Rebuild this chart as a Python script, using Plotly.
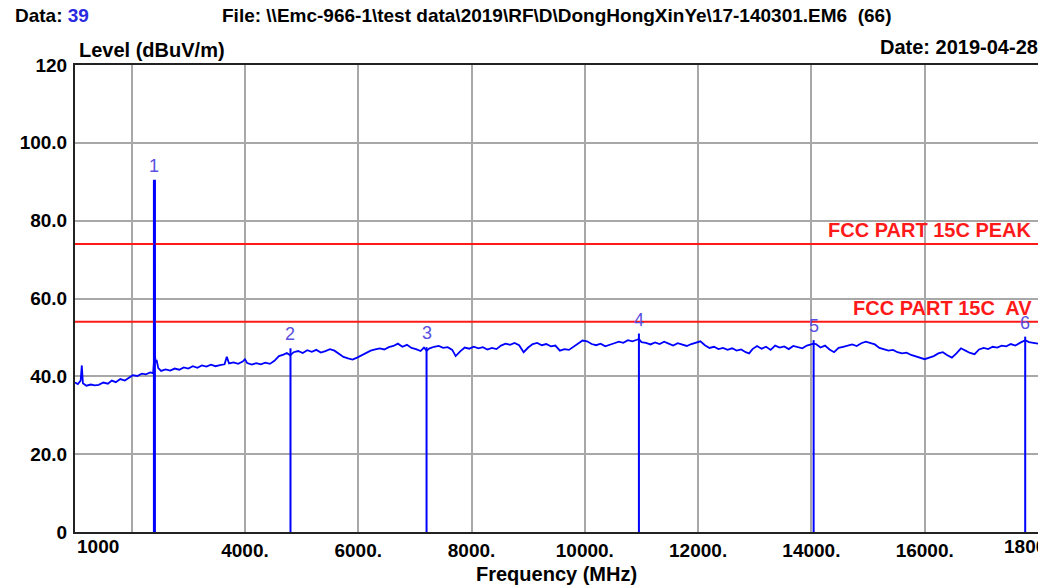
import plotly.graph_objects as go

# Sweep trace (MHz, dBuV/m)
freq_mhz = [
    1000, 1050, 1100, 1120, 1140, 1200, 1280, 1350, 1420, 1500, 1580, 1650, 1720, 1800,
    1880, 1950, 2020, 2100, 2180, 2250, 2330, 2380, 2395, 2402, 2410, 2425, 2440, 2470,
    2520, 2600, 2680, 2760, 2840, 2920, 3000, 3080, 3160, 3240, 3320, 3400, 3480, 3560,
    3640, 3680, 3720, 3800, 3880, 3960, 4000, 4040, 4120, 4200, 4280, 4360, 4440, 4520,
    4600, 4680, 4740, 4800, 4860, 4940, 5020, 5100, 5180, 5260, 5340, 5420, 5500, 5580,
    5660, 5740, 5820, 5900, 5980, 6060, 6140, 6220, 6300, 6380, 6460, 6540, 6620, 6700,
    6780, 6860, 6940, 7020, 7100, 7160, 7206, 7260, 7340, 7420, 7500, 7580, 7660, 7720,
    7800, 7880, 7960, 8040, 8120, 8200, 8280, 8360, 8440, 8520, 8600, 8680, 8760, 8840,
    8920, 9000, 9080, 9160, 9240, 9320, 9400, 9480, 9560, 9640, 9720, 9800, 9880, 9960,
    10040, 10120, 10200, 10280, 10360, 10440, 10520, 10600, 10680, 10760, 10840, 10920,
    10955, 11000, 11080, 11160, 11240, 11320, 11400, 11480, 11560, 11640, 11720, 11800,
    11880, 11960, 12040, 12120, 12200, 12280, 12360, 12440, 12520, 12600, 12680, 12760,
    12840, 12900, 12960, 13040, 13120, 13200, 13280, 13360, 13440, 13520, 13600, 13680,
    13760, 13840, 13920, 14000, 14039, 14080, 14160, 14240, 14320, 14400, 14480, 14560,
    14640, 14720, 14800, 14880, 14960, 15040, 15120, 15200, 15280, 15360, 15440, 15520,
    15600, 15680, 15760, 15840, 15920, 16000, 16080, 16160, 16240, 16320, 16400, 16480,
    16560, 16640, 16720, 16800, 16880, 16960, 17040, 17120, 17200, 17280, 17360, 17440,
    17520, 17600, 17680, 17774, 17840, 17920, 18000,
]
level_dbuv = [
    38.4, 38.0, 38.9, 42.8, 38.2, 37.6, 37.9, 37.7, 37.8, 38.4, 38.1, 38.9, 38.5, 39.3,
    38.9, 39.6, 40.3, 40.1, 40.7, 40.5, 41.0, 40.8, 44.0, 90.3, 45.5, 43.6, 44.2, 42.1,
    41.4, 41.8, 41.5, 42.0, 41.7, 42.3, 42.0, 42.6, 42.2, 42.8, 42.5, 43.0, 42.6, 42.9,
    43.1, 45.0, 43.3, 43.6, 43.2, 43.8, 44.4, 43.4, 43.0, 43.4, 43.1, 43.5, 43.2, 44.0,
    45.2, 45.6, 46.0, 45.4, 46.2, 46.5, 46.0, 46.7, 46.3, 46.8, 46.1, 46.5, 47.0, 46.6,
    45.8, 45.0, 44.6, 44.3, 44.8, 45.4, 45.9, 46.6, 46.9, 47.2, 46.9, 47.5, 47.8, 48.4,
    47.6, 48.1, 47.3, 47.0, 46.5, 47.4, 46.6, 47.2, 47.6, 47.8, 47.3, 47.5, 46.8, 45.2,
    46.4, 47.4, 47.1, 47.6, 47.2, 47.5, 46.9, 47.3, 47.0, 47.9, 48.4, 48.1, 48.6, 48.0,
    46.2, 47.4, 48.3, 48.6, 48.0, 48.3, 47.7, 47.9, 46.6, 47.0, 46.8, 47.6, 48.6, 49.2,
    49.0, 48.3, 48.0, 48.4, 47.7, 48.2, 48.5, 48.9, 48.6, 49.3, 49.0, 49.4,
    49.6, 48.8, 48.6, 48.2, 48.7, 48.3, 48.9, 48.4, 47.9, 48.5, 48.2, 47.8,
    48.3, 48.6, 49.0, 48.0, 47.3, 47.6, 47.0, 47.3, 46.8, 47.2, 46.6, 46.9,
    46.2, 45.9, 47.0, 47.8, 47.1, 47.6, 46.8, 47.9, 47.4, 47.7, 47.0, 47.8,
    47.5, 47.2, 47.9, 48.2, 48.4, 48.3, 47.4, 47.9, 46.9, 46.2, 47.3, 47.6,
    47.9, 48.2, 47.8, 48.5, 48.9, 48.6, 48.2, 47.3, 47.0, 46.6, 46.8, 46.2,
    45.9, 46.1, 45.5, 45.1, 44.7, 44.4, 44.8, 45.2, 45.9, 46.2, 45.4, 44.8,
    45.9, 47.2, 46.6, 46.0, 45.7, 46.9, 47.3, 47.0, 47.6, 47.4, 47.9, 47.7,
    48.3, 47.9, 48.6, 49.3, 48.8, 48.6, 48.4,
]

# Marked peaks
marker_no = ['1', '2', '3', '4', '5', '6']
marker_freq = [2402, 4804, 7206, 10955, 14039, 17774]
marker_level = [90.5, 47.2, 47.5, 51.0, 49.3, 50.2]

# Limit lines
limit_names = ['FCC PART 15C PEAK', 'FCC PART 15C  AV']
limit_levels = [74, 54]

x_tick_vals = [2000, 4000, 6000, 8000, 10000, 12000, 14000, 16000, 18000]
x_tick_text = ['', '4000.', '6000.', '8000.', '10000.', '12000.', '14000.', '16000.', '']
y_tick_vals = [0, 20, 40, 60, 80, 100, 120]
y_tick_text = ['0', '20.0', '40.0', '60.0', '80.0', '100.0', '120']

BLUE = '#0000ff'
LABEL_BLUE = '#5a4fe0'
FONT = 'Liberation Sans, Arial'

fig = go.Figure()

# marker lines (from 0 up to the peak level)
for i, (f, v) in enumerate(zip(marker_freq, marker_level)):
    fig.add_trace(go.Scatter(
        x=[f, f], y=[0, v], mode='lines',
        line=dict(color=BLUE, width=3 if i == 0 else 2),
        showlegend=False, hoverinfo='skip'
    ))

# limit lines
for lvl in limit_levels:
    fig.add_trace(go.Scatter(
        x=[1000, 18000], y=[lvl, lvl], mode='lines',
        line=dict(color='#ff1a1a', width=2),
        showlegend=False, hoverinfo='skip'
    ))

# measured sweep
fig.add_trace(go.Scatter(
    x=freq_mhz, y=level_dbuv, mode='lines',
    line=dict(color=BLUE, width=1.8),
    showlegend=False
))

# marker numbers
for n, f, v in zip(marker_no, marker_freq, marker_level):
    fig.add_annotation(
        x=f, y=v, xref='x', yref='y', text=n, showarrow=False,
        yanchor='bottom', yshift=2,
        font=dict(family=FONT, size=18, color=LABEL_BLUE)
    )

# limit line names
for name, lvl in zip(limit_names, limit_levels):
    fig.add_annotation(
        x=0.996, y=lvl, xref='x domain', yref='y', text=name, showarrow=False,
        xanchor='right', yanchor='bottom', yshift=1,
        font=dict(family=FONT, size=20, color='#ff1a1a', weight='bold')
    )

tick_font = dict(family=FONT, size=19, color='black', weight='bold')

# end labels of the x axis: "1000" left aligned at origin, "18000" running off the edge
fig.add_annotation(
    x=1000, y=0, xref='x', yref='y', text='1000', showarrow=False,
    xanchor='left', yanchor='top', yshift=-2, font=tick_font
)
fig.add_annotation(
    x=18000, y=0, xref='x', yref='y', text='18000', showarrow=False,
    xanchor='center', yanchor='top', xshift=-8, yshift=-2, font=tick_font
)

# header texts
head_font = dict(family=FONT, size=19, color='black', weight='bold')
title_font = dict(family=FONT, size=20, color='black', weight='bold')
fig.add_annotation(
    x=-0.0642, y=1.107, xref='paper', yref='paper', showarrow=False,
    xanchor='left', yanchor='middle',
    text='Data: <span style="color:#2a2ae0">39</span>', font=head_font
)
fig.add_annotation(
    x=0.1503, y=1.107, xref='paper', yref='paper', showarrow=False,
    xanchor='left', yanchor='middle',
    text='File: \\\\Emc-966-1\\test data\\2019\\RF\\D\\DongHongXinYe\\17-140301.EM6  (66)',
    font=head_font
)
fig.add_annotation(
    x=1.002, y=1.0385, xref='paper', yref='paper', showarrow=False,
    xanchor='right', yanchor='middle', text='Date: 2019-04-28', font=title_font
)
fig.add_annotation(
    x=0.002, y=1.032, xref='paper', yref='paper', showarrow=False,
    xanchor='left', yanchor='middle', text='Level (dBuV/m)', font=title_font
)
fig.add_annotation(
    x=0.4995, y=-0.09, xref='paper', yref='paper', showarrow=False,
    xanchor='center', yanchor='middle', text='Frequency (MHz)', font=title_font
)

fig.update_xaxes(
    range=[1000, 18000], tickvals=x_tick_vals, ticktext=x_tick_text,
    showgrid=True, gridcolor='#a8a8a8', gridwidth=2,
    showline=True, linecolor='#222222', linewidth=2, mirror=True,
    ticks='', zeroline=False, tickfont=tick_font
)
fig.update_yaxes(
    range=[0, 120], tickvals=y_tick_vals, ticktext=y_tick_text,
    showgrid=True, gridcolor='#a8a8a8', gridwidth=2,
    showline=True, linecolor='#222222', linewidth=2, mirror=True,
    ticks='', zeroline=False, ticklabelstandoff=2, tickfont=tick_font
)

# page body has an 8px margin, so the margins are trimmed to land the plot at 73..1038 x 65..532
fig.update_layout(
    width=1046, height=586,
    margin=dict(l=65, r=16, t=57, b=62),
    paper_bgcolor='white', plot_bgcolor='white',
    showlegend=False
)

fig.write_html("out.html")
